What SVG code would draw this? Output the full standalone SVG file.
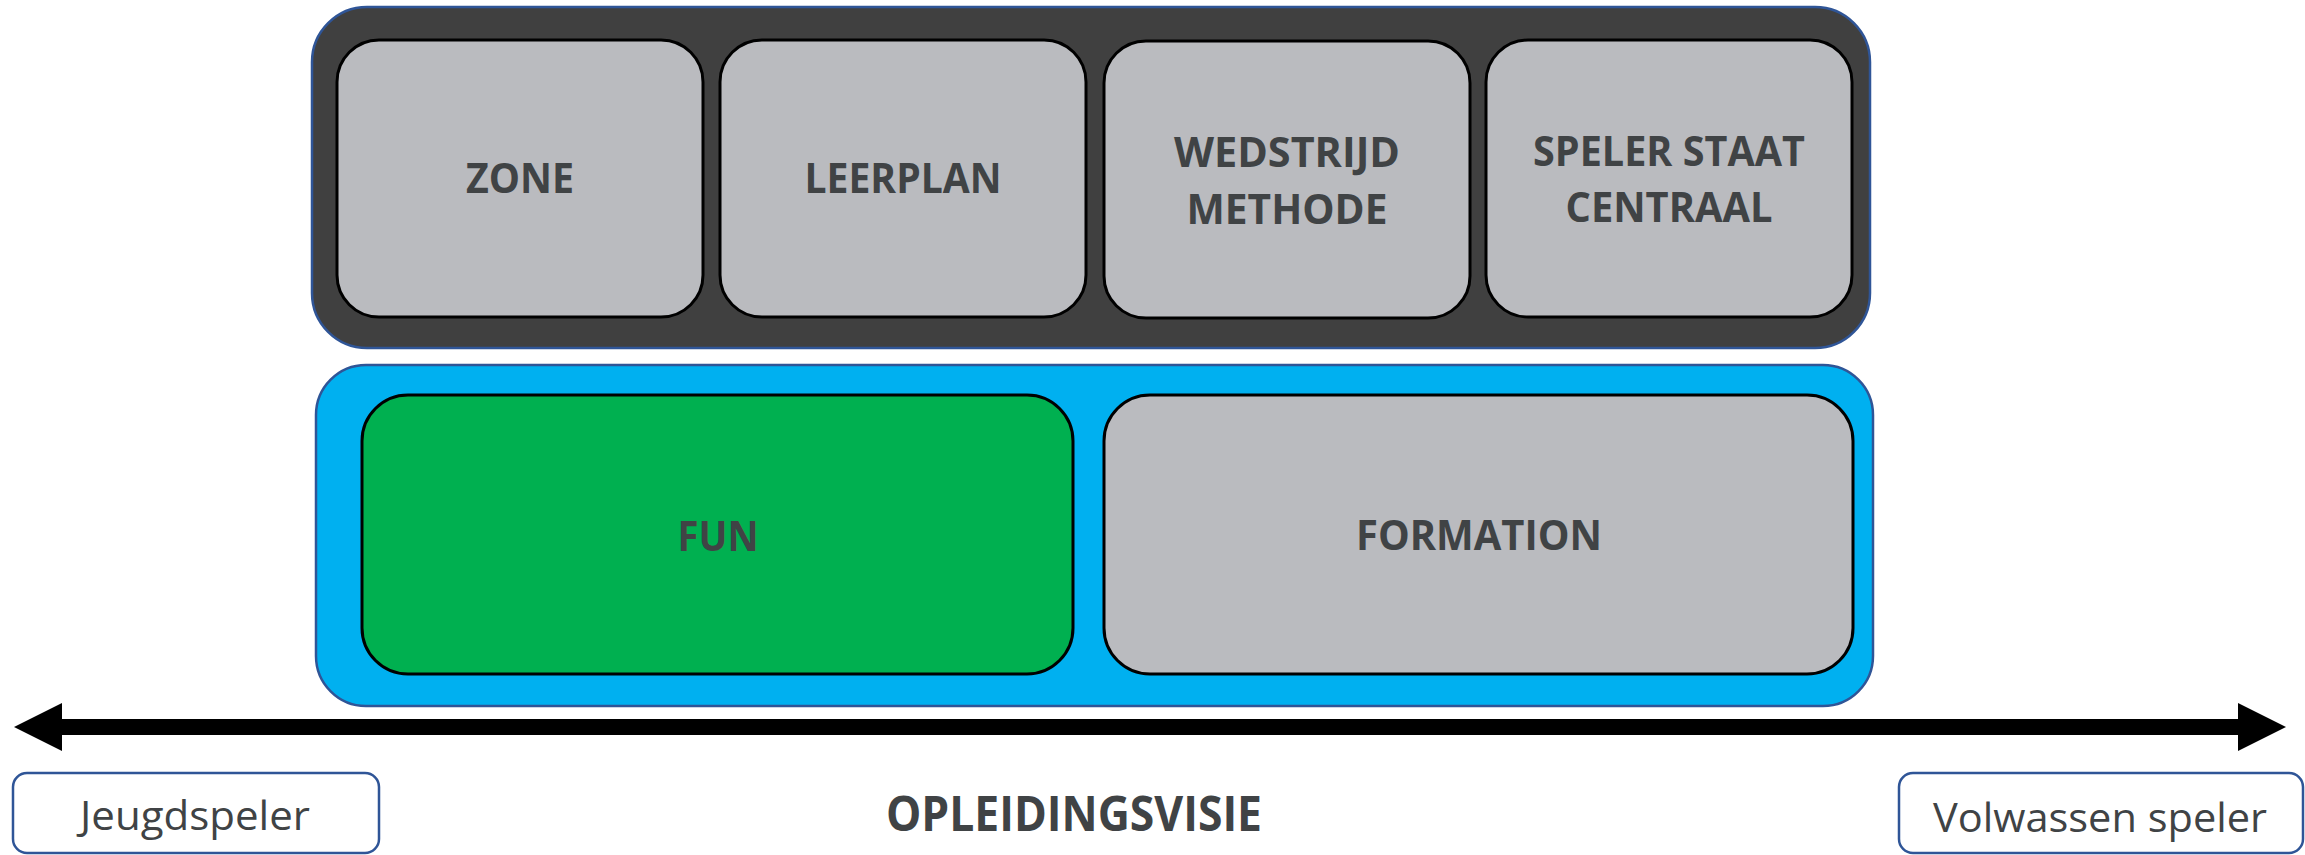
<svg xmlns="http://www.w3.org/2000/svg" width="2305" height="855" viewBox="0 0 2305 855">
<style>
.cont{stroke:#2F5597;stroke-width:2.5}
.box{fill:#BABBBF;stroke:#000;stroke-width:3}
.lbl{font-family:"Open Sans","Liberation Sans",sans-serif;font-weight:bold;font-size:41px;fill:#404345;text-anchor:middle}
.end{fill:#fff;stroke:#2F5597;stroke-width:2.5}
.endt{font-family:"Open Sans","Liberation Sans",sans-serif;font-size:40px;fill:#404345;text-anchor:middle}
</style>
<rect width="2305" height="855" fill="#fff"/>
<g id="top-container">
<rect class="cont" x="312" y="7" width="1558" height="341" rx="55" fill="#404040"/>
</g>
<g id="zone"><rect class="box" x="337" y="40" width="366" height="277" rx="42"/><text class="lbl" x="520" y="193" textLength="108" lengthAdjust="spacingAndGlyphs">ZONE</text></g>
<g id="leerplan"><rect class="box" x="720" y="40" width="366" height="277" rx="42"/><text class="lbl" x="903" y="193" textLength="197" lengthAdjust="spacingAndGlyphs">LEERPLAN</text></g>
<g id="wedstrijd"><rect class="box" x="1104" y="41" width="366" height="277" rx="42"/><text class="lbl" x="1287" y="167" textLength="226" lengthAdjust="spacingAndGlyphs">WEDSTRIJD</text><text class="lbl" x="1287" y="224" textLength="201" lengthAdjust="spacingAndGlyphs">METHODE</text></g>
<g id="speler"><rect class="box" x="1486" y="40" width="366" height="277" rx="42"/><text class="lbl" x="1669" y="166" textLength="272" lengthAdjust="spacingAndGlyphs">SPELER STAAT</text><text class="lbl" x="1669" y="222" textLength="207" lengthAdjust="spacingAndGlyphs">CENTRAAL</text></g>
<g id="bottom-container">
<rect class="cont" x="316" y="365" width="1557" height="341" rx="50" fill="#00B0F0"/>
</g>
<g id="fun"><rect x="362" y="395" width="711" height="279" rx="46" fill="#00B050" stroke="#000" stroke-width="3"/><text class="lbl" x="718" y="551" textLength="81" lengthAdjust="spacingAndGlyphs">FUN</text></g>
<g id="formation"><rect class="box" x="1104" y="395" width="749" height="279" rx="46"/><text class="lbl" x="1479" y="550" textLength="246" lengthAdjust="spacingAndGlyphs">FORMATION</text></g>
<g id="connectors">
<rect x="60" y="719" width="2180" height="16" fill="#000"/>
<polygon points="14,727 62,703 62,751" fill="#000"/>
<polygon points="2286,727 2238,703 2238,751" fill="#000"/>
</g>
<g id="jeugdspeler"><rect class="end" x="13" y="773" width="366" height="80" rx="14"/><text class="endt" x="195" y="830" textLength="230" lengthAdjust="spacingAndGlyphs">Jeugdspeler</text></g>
<g id="volwassen"><rect class="end" x="1899" y="773" width="404" height="80" rx="14"/><text class="endt" x="2100" y="832" textLength="334" lengthAdjust="spacingAndGlyphs">Volwassen speler</text></g>
<g id="opleidingsvisie"><text class="lbl" x="1074" y="831" font-size="48" style="font-size:48px" textLength="376" lengthAdjust="spacingAndGlyphs">OPLEIDINGSVISIE</text></g>
</svg>
